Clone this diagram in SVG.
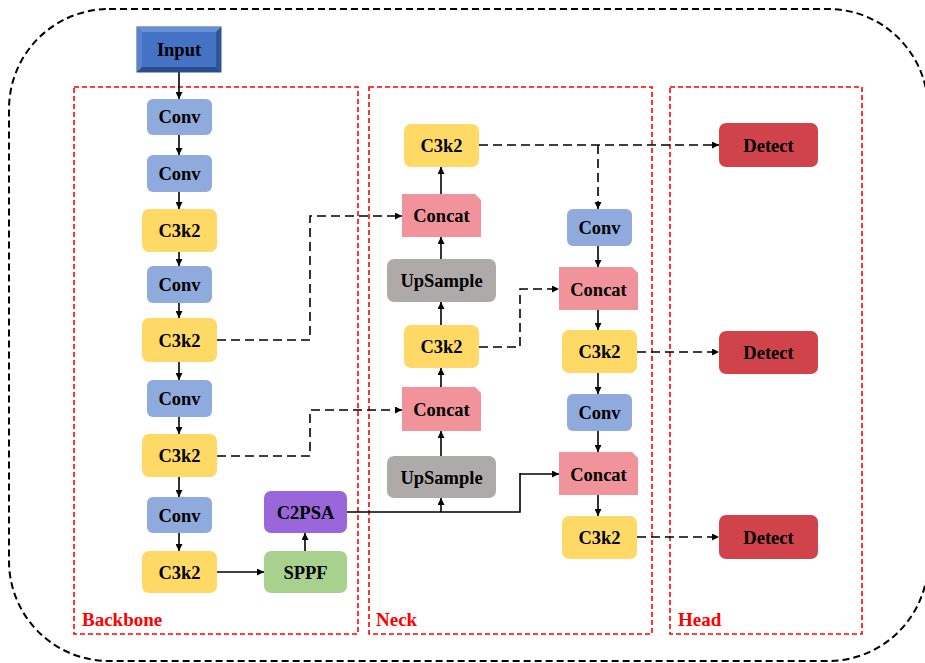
<svg xmlns="http://www.w3.org/2000/svg" width="925" height="663" viewBox="0 0 925 663">
<defs>
<marker id="ah" viewBox="0 0 10 10" refX="10" refY="5" markerWidth="8" markerHeight="7" markerUnits="userSpaceOnUse" orient="auto">
<path d="M0,0 L10,5 L0,10 z" fill="#000"/>
</marker>
<style>
.t{font-family:"Liberation Serif","Times New Roman",serif;font-weight:bold;font-size:18.5px;fill:#000;text-anchor:middle}
.lbl{font-family:"Liberation Serif","Times New Roman",serif;font-weight:bold;font-size:19px;fill:#FF0000}
.grp{fill:none;stroke:#FF0000;stroke-width:1.6;stroke-dasharray:5,3}
.conv{fill:#8FAADC}
.c3k2{fill:#FFD966}
.concat{fill:#F0939B}
.up{fill:#AEAAAA}
.psa{fill:#9A67DB}
.sppf{fill:#A9D18E}
.det{fill:#D0434B}
.s{fill:none;stroke:#000;stroke-width:1.6;marker-end:url(#ah)}
.d{fill:none;stroke:#000;stroke-width:1.6;stroke-dasharray:9,5;marker-end:url(#ah)}
.sn{fill:none;stroke:#000;stroke-width:1.6}
</style>
</defs>
<rect width="925" height="663" fill="#fff"/>
<rect x="9" y="9" width="919" height="652" rx="100" ry="100" fill="none" stroke="#000" stroke-width="2" stroke-dasharray="7,4"/>

<g id="groups">
<rect class="grp" x="74" y="87" width="284" height="547"/>
<rect class="grp" x="369" y="87" width="283" height="547"/>
<rect class="grp" x="670" y="87" width="192" height="547"/>
<text class="lbl" x="82" y="626">Backbone</text>
<text class="lbl" x="376" y="626">Neck</text>
<text class="lbl" x="678" y="626">Head</text>
</g>

<g id="connectors">
<path class="s" d="M179,72 V99"/>
<path class="s" d="M179,135 V155"/>
<path class="s" d="M179,192 V209"/>
<path class="s" d="M179,252 V266"/>
<path class="s" d="M179,303 V318"/>
<path class="s" d="M179,362 V380"/>
<path class="s" d="M179,417 V434"/>
<path class="s" d="M179,477 V497"/>
<path class="s" d="M179,533 V551"/>
<path class="s" d="M217,572 H264"/>
<path class="s" d="M305,551 V533"/>
<path class="d" d="M217,340 H310 V216 H402"/>
<path class="d" d="M217,456 H310 V410 H402"/>
<path class="sn" d="M347,512 H520 V473"/>
<path class="s" d="M520,474 H559"/>
<path class="s" d="M441,512 V498"/>
<path class="s" d="M441,456 V431"/>
<path class="s" d="M441,387 V368"/>
<path class="s" d="M441,325 V302"/>
<path class="s" d="M441,259 V237"/>
<path class="s" d="M441,194 V167"/>
<path class="d" d="M479,145 H719"/>
<path class="d" d="M598,145 V209"/>
<path class="d" d="M479,347 H520 V289 H559"/>
<path class="s" d="M598,246 V267"/>
<path class="s" d="M598,310 V330"/>
<path class="s" d="M598,373 V394"/>
<path class="s" d="M598,431 V452"/>
<path class="s" d="M598,495 V516"/>
<path class="d" d="M637,352 H719"/>
<path class="d" d="M637,537 H719"/>
</g>

<g id="input">
<rect x="137" y="27" width="84" height="45" fill="#4472C4" stroke="#2F528F" stroke-width="1"/>
<path d="M137,27 H221 L216,32 H142 Z" fill="#6A8ED3"/>
<path d="M137,27 V72 L142,67 V32 Z" fill="#5B82CC"/>
<path d="M221,27 V72 L216,67 V32 Z" fill="#2F5597"/>
<path d="M137,72 H221 L216,67 H142 Z" fill="#2A4C8C"/>
<text class="t" x="179" y="56">Input</text>
</g>

<g id="b_conv1"><rect class="conv" x="147" y="99" width="65" height="36" rx="6"/><text class="t" x="179.5" y="123">Conv</text></g>
<g id="b_conv2"><rect class="conv" x="147" y="155" width="65" height="37" rx="6"/><text class="t" x="179.5" y="180">Conv</text></g>
<g id="b_c3k2_1"><rect class="c3k2" x="142" y="209" width="75" height="43" rx="7"/><text class="t" x="179.5" y="237">C3k2</text></g>
<g id="b_conv3"><rect class="conv" x="147" y="266" width="65" height="37" rx="6"/><text class="t" x="179.5" y="291">Conv</text></g>
<g id="b_c3k2_2"><rect class="c3k2" x="142" y="318" width="75" height="44" rx="7"/><text class="t" x="179.5" y="347">C3k2</text></g>
<g id="b_conv4"><rect class="conv" x="147" y="380" width="65" height="37" rx="6"/><text class="t" x="179.5" y="405">Conv</text></g>
<g id="b_c3k2_3"><rect class="c3k2" x="142" y="434" width="75" height="43" rx="7"/><text class="t" x="179.5" y="462">C3k2</text></g>
<g id="b_conv5"><rect class="conv" x="147" y="497" width="65" height="36" rx="6"/><text class="t" x="179.5" y="522">Conv</text></g>
<g id="b_c3k2_4"><rect class="c3k2" x="142" y="551" width="75" height="42" rx="7"/><text class="t" x="179.5" y="579">C3k2</text></g>
<g id="sppf"><rect class="sppf" x="264" y="551" width="83" height="42" rx="7"/><text class="t" x="305.5" y="579">SPPF</text></g>
<g id="c2psa"><rect class="psa" x="264" y="491" width="83" height="42" rx="7"/><text class="t" x="305.5" y="519">C2PSA</text></g>

<g id="n_c3k2_top"><rect class="c3k2" x="404" y="124" width="75" height="43" rx="7"/><text class="t" x="441.5" y="152">C3k2</text></g>
<g id="n_concat1"><path class="concat" d="M402,194 H475 L481,200 V237 H402 Z"/><text class="t" x="441.5" y="222">Concat</text></g>
<g id="n_up1"><rect class="up" x="387" y="259" width="109" height="43" rx="7"/><text class="t" x="441.5" y="287">UpSample</text></g>
<g id="n_c3k2_mid"><rect class="c3k2" x="404" y="325" width="75" height="43" rx="7"/><text class="t" x="441.5" y="353">C3k2</text></g>
<g id="n_concat2"><path class="concat" d="M402,387 H475 L481,393 V431 H402 Z"/><text class="t" x="441.5" y="416">Concat</text></g>
<g id="n_up2"><rect class="up" x="387" y="456" width="109" height="42" rx="7"/><text class="t" x="441.5" y="484">UpSample</text></g>

<g id="n_conv_r1"><rect class="conv" x="567" y="209" width="65" height="37" rx="6"/><text class="t" x="599.5" y="234">Conv</text></g>
<g id="n_concat_r1"><path class="concat" d="M559,267 H632 L638,273 V310 H559 Z"/><text class="t" x="598.5" y="296">Concat</text></g>
<g id="n_c3k2_r1"><rect class="c3k2" x="562" y="330" width="75" height="43" rx="7"/><text class="t" x="599.5" y="358">C3k2</text></g>
<g id="n_conv_r2"><rect class="conv" x="567" y="394" width="65" height="37" rx="6"/><text class="t" x="599.5" y="419">Conv</text></g>
<g id="n_concat_r2"><path class="concat" d="M559,452 H632 L638,458 V495 H559 Z"/><text class="t" x="598.5" y="481">Concat</text></g>
<g id="n_c3k2_r2"><rect class="c3k2" x="562" y="516" width="75" height="43" rx="7"/><text class="t" x="599.5" y="544">C3k2</text></g>

<g id="detect1"><rect class="det" x="719" y="123" width="99" height="44" rx="7"/><text class="t" x="768.5" y="152">Detect</text></g>
<g id="detect2"><rect class="det" x="719" y="331" width="99" height="43" rx="7"/><text class="t" x="768.5" y="359">Detect</text></g>
<g id="detect3"><rect class="det" x="719" y="515" width="99" height="44" rx="7"/><text class="t" x="768.5" y="544">Detect</text></g>
</svg>
